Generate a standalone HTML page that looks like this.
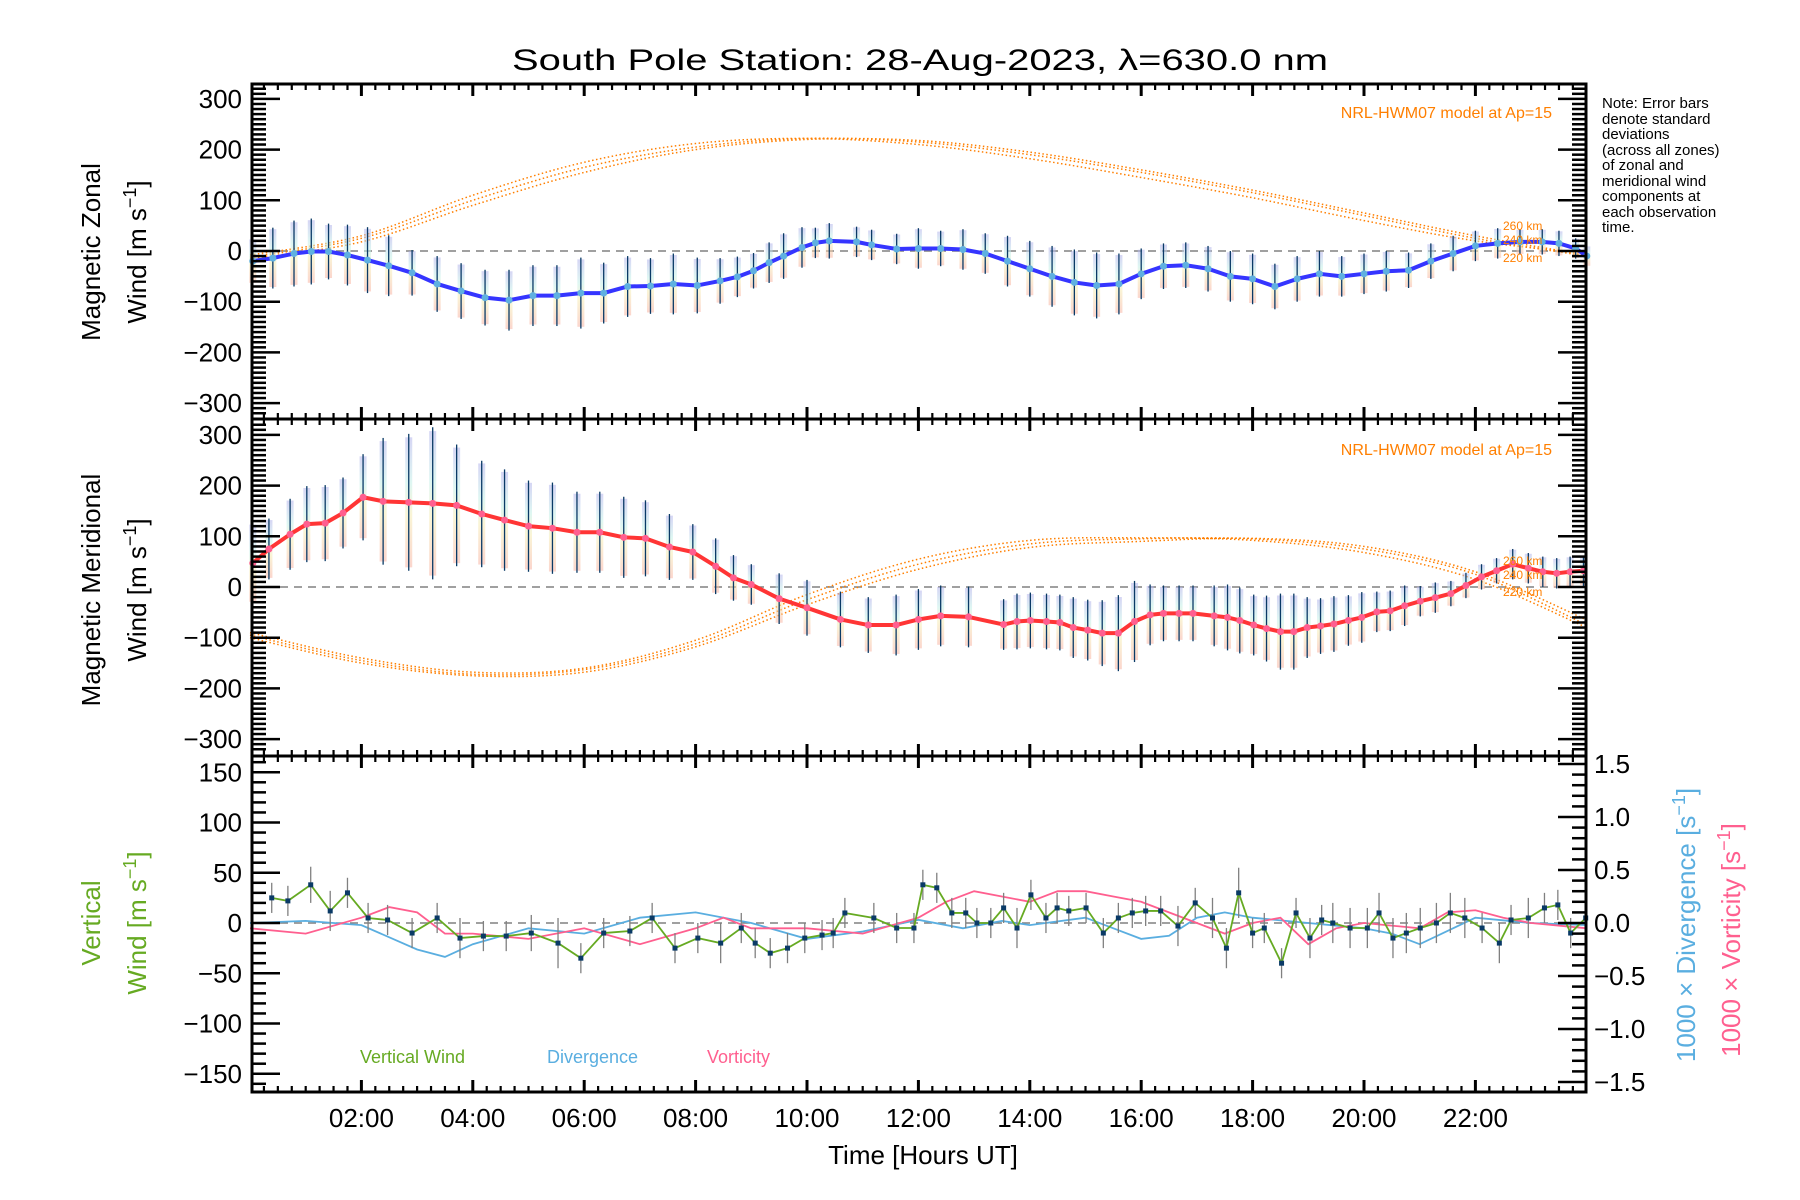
<!DOCTYPE html>
<html><head><meta charset="utf-8">
<style>
html,body{margin:0;padding:0;background:#fff;}
svg{display:block;font-family:"Liberation Sans",sans-serif;}
</style></head>
<body>
<svg id="chart" width="1800" height="1200" viewBox="0 0 1800 1200" xmlns="http://www.w3.org/2000/svg">
<defs>
<linearGradient id="pastel" x1="0" y1="0" x2="0" y2="1">
<stop offset="0" stop-color="#b4b4ec"/><stop offset="0.35" stop-color="#c4f0e8"/><stop offset="0.6" stop-color="#f6ecb4"/><stop offset="1" stop-color="#f8b4a4"/>
</linearGradient>
</defs>
<text x="920" y="70" text-anchor="middle" font-size="30" textLength="816" lengthAdjust="spacingAndGlyphs">South Pole Station: 28-Aug-2023, λ=630.0 nm</text>
<g id="layer"></g>
<g font-size="15">
<text x="1602" y="108">Note: Error bars</text>
<text x="1602" y="124">denote standard</text>
<text x="1602" y="139">deviations</text>
<text x="1602" y="155">(across all zones)</text>
<text x="1602" y="170">of zonal and</text>
<text x="1602" y="186">meridional wind</text>
<text x="1602" y="201">components at</text>
<text x="1602" y="217">each observation</text>
<text x="1602" y="232">time.</text>
</g>
</svg>
<script>
// ---------- data ----------
const zonalHours=[0.05,0.41,0.79,1.1,1.41,1.75,2.11,2.49,2.91,3.36,3.79,4.22,4.65,5.08,5.51,5.94,6.35,6.78,7.19,7.6,8.03,8.44,8.75,9.04,9.32,9.58,9.91,10.15,10.4,10.89,11.16,11.61,12.0,12.4,12.8,13.2,13.6,14.0,14.4,14.8,15.2,15.6,16.0,16.4,16.8,17.2,17.6,18.0,18.4,18.8,19.2,19.6,20.0,20.4,20.8,21.2,21.6,22.0,22.4,22.8,23.2,23.5,23.8,24.0];
const zonalValues=[-20,-14,-5,-1,-1,-8,-18,-29,-43,-65,-79,-92,-97,-88,-88,-83,-83,-70,-69,-65,-68,-59,-51,-39,-23,-10,7,16,20,18,12,4,5,5,3,-5,-20,-35,-50,-62,-68,-65,-45,-30,-28,-35,-50,-55,-70,-55,-45,-50,-45,-40,-38,-20,-5,10,15,18,18,15,5,-10];
const zonalSd=[45,60,65,65,55,60,65,60,45,55,55,55,60,60,60,70,60,60,55,60,55,45,40,35,40,45,40,30,35,30,30,30,40,35,40,40,50,55,60,65,65,60,50,45,45,45,50,50,45,45,45,40,40,40,35,35,35,30,30,25,25,25,20,20];
const meridHours=[0.05,0.34,0.72,1.02,1.35,1.67,2.03,2.39,2.85,3.28,3.71,4.16,4.57,5.0,5.43,5.87,6.28,6.71,7.1,7.53,7.95,8.36,8.68,9.0,9.5,10.0,10.6,11.1,11.6,12.0,12.4,12.9,13.53,13.77,14.01,14.3,14.54,14.78,15.04,15.3,15.59,15.88,16.16,16.4,16.68,16.93,17.31,17.55,17.77,18.02,18.25,18.5,18.74,18.98,19.22,19.46,19.72,19.96,20.23,20.47,20.73,21.01,21.28,21.56,21.83,22.11,22.38,22.67,22.95,23.21,23.46,23.7,23.94];
const meridValues=[47,75,104,124,126,146,177,169,167,165,161,144,132,120,116,108,108,98,96,79,69,41,18,5,-23,-41,-64,-75,-75,-64,-57,-59,-74,-68,-66,-68,-70,-80,-85,-91,-91,-68,-55,-52,-52,-52,-57,-60,-66,-75,-82,-88,-88,-80,-77,-73,-66,-60,-49,-47,-37,-28,-21,-13,3,20,32,45,37,30,27,30,32];
const meridSd=[80,60,70,75,75,70,85,125,135,150,120,105,100,90,90,80,80,80,75,65,55,55,45,40,50,55,55,55,60,60,60,60,50,55,55,55,55,60,60,65,75,80,60,55,55,55,60,65,65,60,65,75,75,60,55,55,50,50,40,40,40,30,30,25,25,25,25,30,30,30,30,30,30];
const modelHours=[0,2,4,6,8,10,12,14,16,18,20,22,24];
const zonalModelA=[-12,25,100,165,205,222,215,190,155,115,70,25,-10];
const zonalModelB=[-8,30,110,175,212,222,210,182,145,105,60,20,-5];
const zonalModelC=[-15,18,90,155,200,220,218,195,160,120,75,30,-8];
const meridModelA=[-95,-145,-172,-163,-112,-25,45,85,95,95,75,25,-75];
const meridModelB=[-90,-140,-168,-160,-105,-15,55,92,97,92,68,15,-80];
const meridModelC=[-100,-150,-175,-168,-118,-35,35,78,90,96,80,30,-65];
const vertHours=[0.39,0.68,1.09,1.44,1.75,2.12,2.47,2.91,3.36,3.77,4.19,4.6,5.05,5.53,5.94,6.35,6.82,7.22,7.63,8.04,8.45,8.82,9.07,9.34,9.65,9.96,10.27,10.47,10.68,11.2,11.61,11.92,12.08,12.33,12.6,12.85,13.05,13.3,13.53,13.77,14.02,14.29,14.49,14.7,15.01,15.32,15.59,15.84,16.08,16.35,16.66,16.97,17.28,17.53,17.75,18.0,18.21,18.52,18.78,19.03,19.24,19.44,19.75,20.06,20.27,20.52,20.76,21.01,21.3,21.55,21.81,22.12,22.43,22.64,22.95,23.24,23.48,23.71,23.98];
const vertValues=[25,22,38,12,30,5,3,-10,5,-15,-13,-13,-10,-20,-35,-10,-8,5,-25,-15,-20,-5,-20,-30,-25,-15,-12,-10,10,5,-5,-5,38,35,10,10,0,0,15,-5,28,5,15,12,15,-10,5,10,12,12,-3,20,5,-25,30,-10,-5,-40,10,-15,3,0,-5,-5,10,-15,-10,-5,0,10,5,-5,-20,3,5,15,18,-10,5];
const vertErr=[15,15,18,20,15,15,15,15,15,20,15,15,18,25,15,15,15,15,15,15,20,15,15,15,15,15,15,15,15,15,15,15,15,15,15,15,15,15,15,20,15,15,15,15,15,15,15,15,15,15,20,15,20,20,25,15,15,15,15,20,15,20,20,20,20,20,20,20,20,20,20,15,20,15,20,15,15,15,15];
const fieldHours=[0,1,2,3,3.5,4,5,6,7,8,9,10,11,12,12.8,13.5,14,15,15.5,16,16.5,17,17.5,18,19,20,20.5,21,22,23,24];
const divergence=[0.0,0.02,-0.02,-0.25,-0.32,-0.2,-0.05,-0.1,0.05,0.1,0.0,-0.15,-0.08,0.03,-0.05,0.02,-0.02,0.05,-0.05,-0.15,-0.12,0.05,0.1,0.05,0.0,-0.05,-0.1,-0.2,0.05,0.0,-0.02];
const vortHours=[0,1,2,2.5,3,3.5,4,5,6,7,8,8.5,9,10,11,12,12.5,13,14,14.5,15,15.5,16,17,17.5,18,18.5,19,19.5,20,21,21.5,22,22.5,23,24];
const vorticity=[-0.05,-0.1,0.05,0.15,0.1,-0.1,-0.1,-0.15,-0.05,-0.2,-0.05,0.05,-0.05,-0.05,-0.1,0.05,0.2,0.3,0.2,0.3,0.3,0.25,0.2,0.0,-0.1,0.0,0.05,-0.2,-0.05,0.0,-0.05,0.1,0.12,0.05,0.0,-0.05];
const timeTicks=["02:00","04:00","06:00","08:00","10:00","12:00","14:00","16:00","18:00","20:00","22:00"];
const windTicks=[300,200,100,0,-100,-200,-300];
const vertTicks=[150,100,50,0,-50,-100,-150];
const rightTicks=[1.5,1.0,0.5,0.0,-0.5,-1.0,-1.5];

// ---------- geometry ----------
const NS="http://www.w3.org/2000/svg";
const L=252,R=1586;
const panels=[{top:84,bot:419,zero:251,k:0.507},{top:419,bot:756,zero:587,k:0.507},{top:756,bot:1092,zero:923,k:1.005}];
const xs=h=>250+h*55.7;
const yScale=p=>v=>p.zero-v*p.k;
const yTop=yScale(panels[0]),yMid=yScale(panels[1]),yBot=yScale(panels[2]);
const yRight=v=>923-v*106;
const layer=document.getElementById('layer');
function mk(tag,attrs,parent){const e=document.createElementNS(NS,tag);for(const k in attrs)e.setAttribute(k,attrs[k]);(parent||layer).appendChild(e);return e;}
function grp(name){const g=mk('g',{});


return g;}
function smooth(hs,vs,ys){let pts=hs.map((h,i)=>[xs(h),ys(vs[i])]);let d=`M${pts[0][0]},${pts[0][1]}`;for(let i=0;i<pts.length-1;i++){const p0=pts[Math.max(0,i-1)],p1=pts[i],p2=pts[i+1],p3=pts[Math.min(pts.length-1,i+2)];const c1=[p1[0]+(p2[0]-p0[0])/6,p1[1]+(p2[1]-p0[1])/6],c2=[p2[0]-(p3[0]-p1[0])/6,p2[1]-(p3[1]-p1[1])/6];d+=` C${c1[0]},${c1[1]} ${c2[0]},${c2[1]} ${p2[0]},${p2[1]}`;}return d;}
function poly(hs,vs,ys){return hs.map((h,i)=>`${xs(h)},${ys(vs[i])}`).join(' ');}

panels.forEach((p,i)=>{const l=mk('line',{x1:L,x2:R,y1:p.zero,y2:p.zero,stroke:'#808080','stroke-width':1.5,'stroke-dasharray':'8,6'});

});

function models(list,ys,name){const g=grp(name);list.forEach(arr=>{mk('path',{d:smooth(modelHours,arr,ys),fill:'none',stroke:'#ff7f00','stroke-width':1.5,'stroke-dasharray':'1.5,2.5'},g);});return g;}
models([zonalModelA,zonalModelB,zonalModelC],yTop,'zonal-model-curves');
models([meridModelA,meridModelB,meridModelC],yMid,'meridional-model-curves');

function windSeries(hs,vs,sd,ys,lineColor,dotColor,name){
 const g=grp(name+'-error-bars');
 hs.forEach((h,i)=>{const x=xs(h);
  const r=mk('rect',{x:x-3.5,y:ys(vs[i]+sd[i]*0.95),width:7,height:Math.abs(ys(vs[i]-sd[i]*0.95)-ys(vs[i]+sd[i]*0.95)),fill:'url(#pastel)',opacity:0.55},g);
  
  
  const l=mk('line',{x1:x,x2:x,y1:ys(vs[i]+sd[i]),y2:ys(vs[i]-sd[i]),stroke:'#0a3a66','stroke-width':1.3},g);
  
  
 });
 const pl=mk('polyline',{points:poly(hs,vs,ys),fill:'none',stroke:lineColor,'stroke-width':4,'stroke-linejoin':'round'});
 
 
 const dg=grp(name+'-points');
 hs.forEach((h,i)=>{const c=mk('circle',{cx:xs(h),cy:ys(vs[i]),r:3.5,fill:dotColor},dg);
  
  });
}
windSeries(zonalHours,zonalValues,zonalSd,yTop,'#3535ff','#5fb0e0','zonal-wind');
windSeries(meridHours,meridValues,meridSd,yMid,'#ff3535','#ff5f8f','meridional-wind');

const dv=mk('polyline',{points:poly(fieldHours,divergence,yRight),fill:'none',stroke:'#5aaee0','stroke-width':1.8});


const vt=mk('polyline',{points:poly(vortHours,vorticity,yRight),fill:'none',stroke:'#ff5f8f','stroke-width':1.8});


const veb=grp('vertical-wind-error-bars');
vertHours.forEach((h,i)=>{const l=mk('line',{x1:xs(h),x2:xs(h),y1:yBot(vertValues[i]+vertErr[i]),y2:yBot(vertValues[i]-vertErr[i]),stroke:'#808080','stroke-width':1.3},veb);
 
 });
const vw=mk('polyline',{points:poly(vertHours,vertValues,yBot),fill:'none',stroke:'#66aa22','stroke-width':1.8});


const vp=grp('vertical-wind-points');
vertHours.forEach((h,i)=>{const r=mk('rect',{x:xs(h)-2.5,y:yBot(vertValues[i])-2.5,width:5,height:5,fill:'#0a3a66'},vp);
 
 });

const ax=grp('axes');
panels.forEach(p=>{mk('rect',{x:L,y:p.top,width:R-L,height:p.bot-p.top,fill:'none',stroke:'#000','stroke-width':3},ax);
 for(let m=15;m<1440;m+=15){const x=xs(m/60);if(x<L+2||x>R-2)continue;const maj=m%120===0;const len=maj?12:6;
  mk('line',{x1:x,x2:x,y1:p.top,y2:p.top+len,stroke:'#000','stroke-width':maj?3:2.2},ax);
  mk('line',{x1:x,x2:x,y1:p.bot,y2:p.bot-len,stroke:'#000','stroke-width':maj?3:2.2},ax);}
});
[0,1].forEach(pi=>{const p=panels[pi];for(let v=-330;v<=330;v+=10){const y=p.zero-v*p.k;if(y<p.top+2||y>p.bot-2)continue;const maj=v%100===0;const len=maj?28:14;
 mk('line',{x1:L,x2:L+len,y1:y,y2:y,stroke:'#000','stroke-width':2.5},ax);
 mk('line',{x1:R,x2:R-len,y1:y,y2:y,stroke:'#000','stroke-width':2.5},ax);}});
{const p=panels[2];for(let v=-160;v<=160;v+=10){const y=yBot(v);if(y<p.top+2||y>p.bot-2)continue;const len=v%50===0?28:14;mk('line',{x1:L,x2:L+len,y1:y,y2:y,stroke:'#000','stroke-width':2.5},ax);}
 for(let v=-15;v<=15;v++){const y=yRight(v/10);if(y<p.top+2||y>p.bot-2)continue;const len=v%5===0?28:14;mk('line',{x1:R,x2:R-len,y1:y,y2:y,stroke:'#000','stroke-width':2.5},ax);}}

const tl=grp('tick-labels');
function txt(x,y,s,attrs,parent,name){const t=mk('text',Object.assign({x:x,y:y},attrs),parent);t.textContent=s;
 
 return t;}
windTicks.forEach(v=>{const s=v<0?'\u2212'+(-v):String(v);txt(242,yTop(v)+9,s,{'text-anchor':'end','font-size':26},tl,'zonal-y-tick');txt(242,yMid(v)+9,s,{'text-anchor':'end','font-size':26},tl,'meridional-y-tick');});
vertTicks.forEach(v=>{const s=v<0?'\u2212'+(-v):String(v);txt(242,yBot(v)+9,s,{'text-anchor':'end','font-size':26},tl,'vertical-y-tick');});
rightTicks.forEach(v=>{const s=v<0?'\u2212'+(-v).toFixed(1):v.toFixed(1);txt(1594,yRight(v)+9,s,{'font-size':26},tl,'right-y-tick');});
timeTicks.forEach((s,i)=>{txt(xs(2*(i+1)),1127,s,{'text-anchor':'middle','font-size':26},tl,'time-tick');});
txt(923,1164,'Time [Hours UT]',{'text-anchor':'middle','font-size':26},null,'x-axis-title');

function vtitle(x,y,lines,color,name){const t=mk('text',{x:0,y:0,transform:`translate(${x},${y}) rotate(-90)`,'text-anchor':'middle','font-size':26,fill:color});t.innerHTML=lines;
 
 }
vtitle(100,252,'Magnetic Zonal','#000','zonal-y-title-1');
vtitle(146,252,'Wind [m s<tspan dy="-10" font-size="18">\u22121</tspan><tspan dy="10">]</tspan>','#000','zonal-y-title-2');
vtitle(100,590,'Magnetic Meridional','#000','meridional-y-title-1');
vtitle(146,590,'Wind [m s<tspan dy="-10" font-size="18">\u22121</tspan><tspan dy="10">]</tspan>','#000','meridional-y-title-2');
vtitle(100,923,'Vertical','#66aa22','vertical-y-title-1');
vtitle(146,923,'Wind [m s<tspan dy="-10" font-size="18">\u22121</tspan><tspan dy="10">]</tspan>','#66aa22','vertical-y-title-2');
vtitle(1695,925,'1000 \u00d7 Divergence [s<tspan dy="-10" font-size="18">\u22121</tspan><tspan dy="10">]</tspan>','#5aaee0','divergence-axis-title');
vtitle(1740,940,'1000 \u00d7 Vorticity [s<tspan dy="-10" font-size="18">\u22121</tspan><tspan dy="10">]</tspan>','#ff5f8f','vorticity-axis-title');

const an=grp('model-annotations');
txt(1552,118,'NRL-HWM07 model at Ap=15',{'text-anchor':'end','font-size':16,fill:'#ff7f00'},an,'zonal-model-label');
txt(1552,455,'NRL-HWM07 model at Ap=15',{'text-anchor':'end','font-size':16,fill:'#ff7f00'},an,'meridional-model-label');
[['260 km',230],['240 km',244],['220 km',262],['260 km',565],['240 km',579],['220 km',596]].forEach(a=>txt(1503,a[1],a[0],{'font-size':12,fill:'#ff7f00'},an,'altitude-label'));

const lg=grp('legend');
txt(360,1063,'Vertical Wind',{'font-size':18,fill:'#66aa22'},lg,'legend-vertical-wind');
txt(547,1063,'Divergence',{'font-size':18,fill:'#5aaee0'},lg,'legend-divergence');
txt(707,1063,'Vorticity',{'font-size':18,fill:'#ff5f8f'},lg,'legend-vorticity');
</script>
</body></html>
